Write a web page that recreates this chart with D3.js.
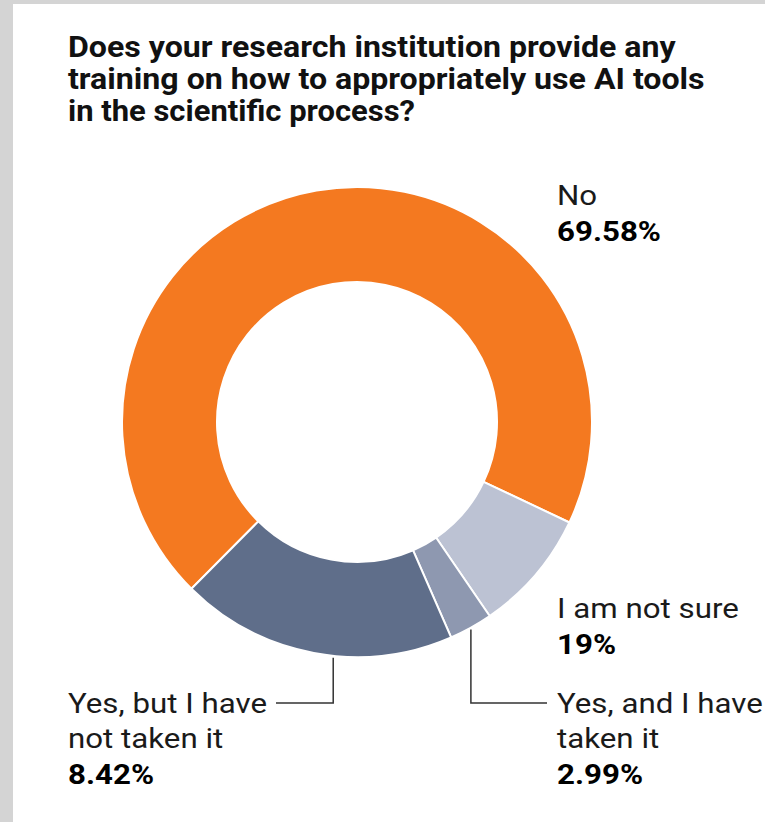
<!DOCTYPE html>
<html>
<head>
<meta charset="utf-8">
<script src="https://cdn.jsdelivr.net/npm/d3@7"></script>
<style>
  html, body { margin: 0; padding: 0; background: #d4d4d4; }
  svg { display: block; }
</style>
</head>
<body>
<svg id="chart" width="765" height="822"></svg>
<script>
const titleLines = [
  "Does your research institution provide any",
  "training on how to appropriately use AI tools",
  "in the scientific process?"
];
// Slices in drawing order (clockwise from the lower-left)
const categories = ["No", "I am not sure (slice)", "Yes, and I have taken it", "Yes, but I have not taken it"];
const values = [69.58, 8.42, 2.99, 19];
const colors = ["#f47920", "#bcc2d3", "#8e98b0", "#5f6e8a"];
// Labels as printed on the reference
const labelLines = [
  ["No"],
  ["I am not sure"],
  ["Yes, and I have", "taken it"],
  ["Yes, but I have", "not taken it"]
];
const labelValues = ["69.58%", "19%", "2.99%", "8.42%"];

const svg = d3.select("#chart");
svg.append("rect").attr("x", 13).attr("y", 4).attr("width", 752).attr("height", 818).attr("fill", "#ffffff");

const font = "Roboto, 'Liberation Sans', Arial, sans-serif";

// Title: bold, horizontally condensed to the reference widths
const titleWidths = [608, 637, 347];
titleLines.forEach((t, i) => {
  const y = 57 + i * 32;
  const txt = svg.append("text")
    .attr("x", 0).attr("y", 0)
    .attr("font-family", font).attr("font-weight", 700).attr("font-size", 28)
    .attr("fill", "#111")
    .text(t);
  const w = txt.node().getComputedTextLength();
  const sx = titleWidths[i] / w;
  txt.attr("transform", `translate(68,${y}) scale(${sx},1.05)`);
});

const cx = 357, cy = 422, rOuter = 235, rInner = 140;
const startDeg = 224.8;
const pie = d3.pie().sort(null).value(d => d)
  .startAngle(startDeg * Math.PI / 180 - 2 * Math.PI)
  .endAngle(startDeg * Math.PI / 180);
const arcs = pie(values);
const arc = d3.arc().innerRadius(rInner).outerRadius(rOuter);

const g = svg.append("g").attr("transform", `translate(${cx},${cy})`);
g.selectAll("path").data(arcs).join("path")
  .attr("d", arc)
  .attr("fill", (d, i) => colors[i])
  .attr("stroke", "#ffffff").attr("stroke-width", 2).attr("stroke-linejoin", "round");

// Labels
const labelPos = [
  {x: 557, y: 205},
  {x: 557, y: 618},
  {x: 557, y: 713},
  {x: 68, y: 713}
];
const lh = 35;
const labelSize = 28;
const probe = svg.append("text").attr("font-family", font).attr("font-size", labelSize).text("Yes, and I have");
const labelSx = 206 / probe.node().getComputedTextLength();
probe.remove();

labelLines.forEach((lines, i) => {
  const p = labelPos[i];
  const t = svg.append("text").attr("font-family", font).attr("fill", "#1a1a1a")
    .attr("transform", `translate(${p.x},${p.y}) scale(${labelSx},1)`);
  lines.forEach((ln, j) => {
    t.append("tspan").attr("x", 0).attr("y", j * lh)
      .attr("font-size", labelSize).attr("font-weight", 400).text(ln);
  });
  t.append("tspan").attr("x", 0).attr("y", lines.length * lh + 1)
    .attr("font-size", labelSize).attr("font-weight", 700).attr("fill", "#000").text(labelValues[i]);
});

// Leader lines: start at a point along the slice's outer edge (fraction of its span)
function leader(i, frac, elbowY, endX) {
  const a = arcs[i].startAngle + frac * (arcs[i].endAngle - arcs[i].startAngle);
  const x0 = cx + Math.sin(a) * rOuter;
  const y0 = cy - Math.cos(a) * rOuter;
  svg.append("path")
    .attr("d", `M${x0},${y0 + 2}V${elbowY}H${endX}`)
    .attr("fill", "none").attr("stroke", "#333").attr("stroke-width", 1.5);
}
leader(2, 0.5, 703, 547);
leader(3, 0.43, 703, 276);
</script>
</body>
</html>
